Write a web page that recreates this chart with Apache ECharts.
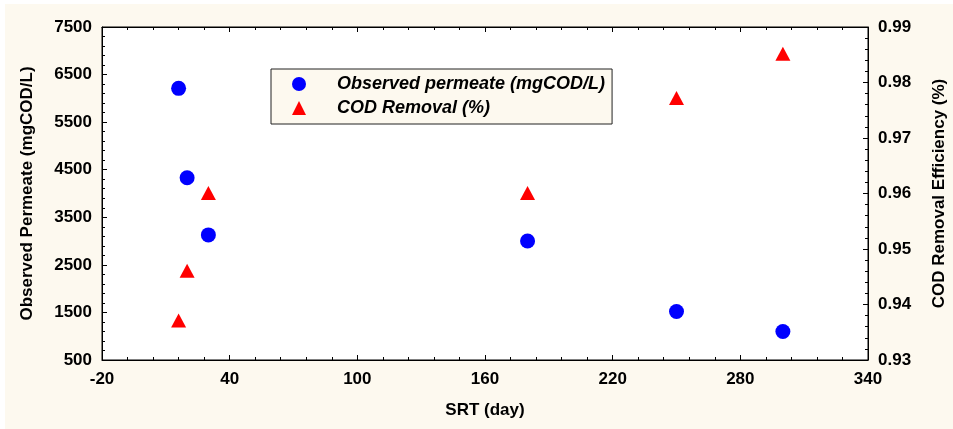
<!DOCTYPE html>
<html>
<head>
<meta charset="utf-8">
<script src="https://cdn.jsdelivr.net/npm/echarts@6/dist/echarts.min.js"></script>
<style>
html,body{margin:0;padding:0;background:#ffffff;width:953px;height:429px;overflow:hidden;}
#chart{position:absolute;left:5px;top:4px;width:948px;height:425px;}
</style>
</head>
<body>
<div id="chart"></div>
<script>
// Data
const srt = [16, 20, 30, 180, 250, 300];
const permeate = [6210, 4330, 3130, 3000, 1520, 1100];
const codRemoval = [0.9371, 0.9461, 0.9601, 0.9601, 0.9772, 0.9852];
const seriesNames = ['Observed permeate (mgCOD/L)', 'COD Removal (%)'];
const xAxisName = 'SRT (day)';
const leftAxisName = 'Observed Permeate (mgCOD/L)';
const rightAxisName = 'COD Removal Efficiency (%)';

const font = 'Arial, "Liberation Sans", sans-serif';
const chart = echarts.init(document.getElementById('chart'));

const tickCommon = {
  z: 5,
  axisLine: {show: true, onZero: false, lineStyle: {color: '#000', width: 1}},
  axisTick: {show: true, inside: true, length: 5, lineStyle: {color: '#000', width: 1}},
  minorTick: {show: true, splitNumber: 5, length: 3, lineStyle: {color: '#000', width: 1}},
  splitLine: {show: false},
  minorSplitLine: {show: false}
};
const labelStyle = {color: '#000', fontFamily: font, fontWeight: 'bold', fontSize: 17};
const nameStyle = {color: '#000', fontFamily: font, fontWeight: 'bold', fontSize: 17};

chart.setOption({
  backgroundColor: '#fdf9ef',
  animation: false,
  grid: {left: 97, top: 23, width: 766, height: 333, show: true, z: 0,
         containLabel: false, outerBoundsMode: 'none',
         backgroundColor: '#ffffff', borderColor: '#000', borderWidth: 1},
  legend: {
    orient: 'vertical', left: 266, top: 65, z: 6,
    backgroundColor: '#fdf9ef', borderColor: '#222', borderWidth: 1,
    padding: [6, 7, 7, 21],
    itemWidth: 14, itemHeight: 14, itemGap: 6,
    textStyle: {fontFamily: font, fontWeight: 'bold', fontStyle: 'italic', fontSize: 18, color: '#000', padding: [0, 0, 0, 26]},
    data: [{name: seriesNames[0], icon: 'circle'}, {name: seriesNames[1], icon: 'triangle'}]
  },
  xAxis: [
    Object.assign({
      type: 'value', min: -20, max: 340, interval: 60, position: 'bottom',
      name: xAxisName, nameLocation: 'middle', nameGap: 42, nameTextStyle: nameStyle,
      axisLabel: Object.assign({margin: 11, formatter: v => String(v)}, labelStyle)
    }, tickCommon),
    Object.assign({
      type: 'value', min: -20, max: 340, interval: 60, position: 'top',
      axisLabel: {show: false}
    }, tickCommon)
  ],
  yAxis: [
    Object.assign({
      type: 'value', min: 500, max: 7500, interval: 1000, position: 'left',
      name: leftAxisName, nameLocation: 'middle', nameRotate: 90, nameGap: 66, nameTextStyle: nameStyle,
      axisLabel: Object.assign({margin: 10, formatter: v => String(v)}, labelStyle)
    }, tickCommon),
    Object.assign({
      type: 'value', min: 0.93, max: 0.99, interval: 0.01, position: 'right',
      name: rightAxisName, nameLocation: 'middle', nameRotate: 90, nameGap: 63, nameTextStyle: nameStyle,
      axisLabel: Object.assign({margin: 10, formatter: v => v.toFixed(2)}, labelStyle)
    }, tickCommon)
  ],
  series: [
    {
      name: seriesNames[0], type: 'scatter', xAxisIndex: 0, yAxisIndex: 0, z: 3,
      symbol: 'circle', symbolSize: 15,
      itemStyle: {color: '#0000ff', opacity: 1},
      data: srt.map((x, i) => [x, permeate[i]])
    },
    {
      name: seriesNames[1], type: 'scatter', xAxisIndex: 0, yAxisIndex: 1, z: 3,
      symbol: 'triangle', symbolSize: [15, 14],
      itemStyle: {color: '#ff0000', opacity: 1},
      data: srt.map((x, i) => [x, codRemoval[i]])
    }
  ]
});
</script>
</body>
</html>
